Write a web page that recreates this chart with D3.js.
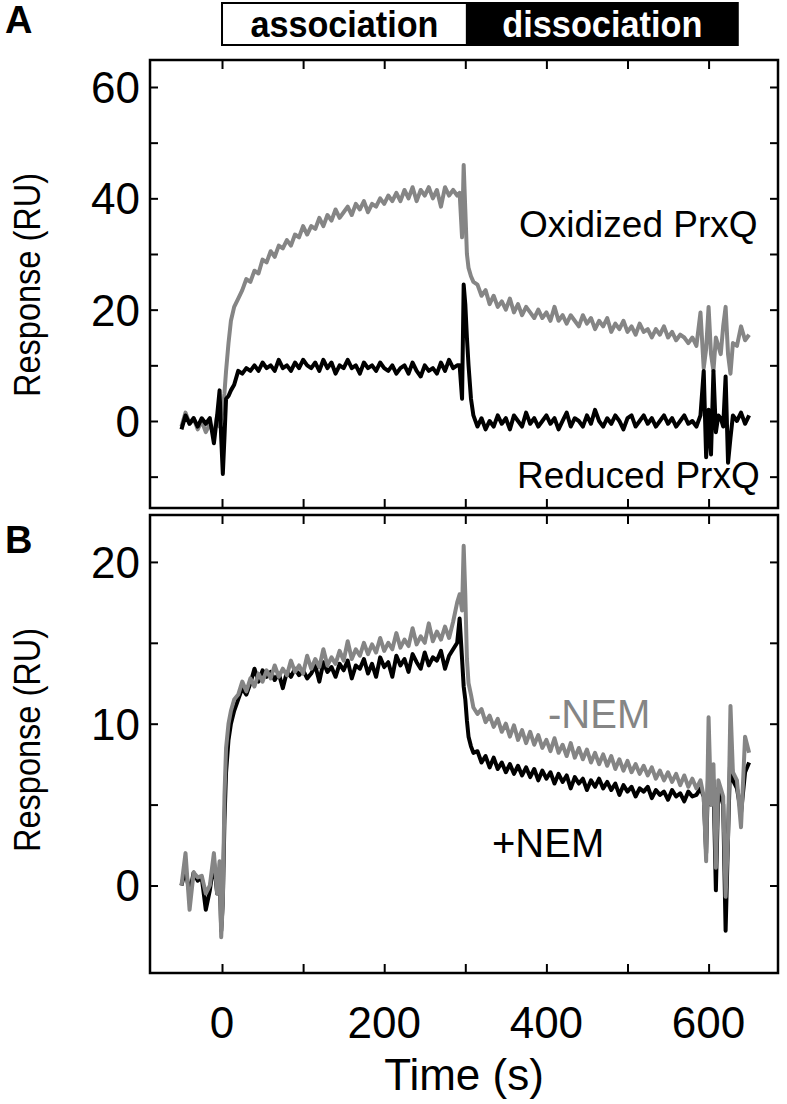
<!DOCTYPE html>
<html>
<head>
<meta charset="utf-8">
<script src="https://cdn.jsdelivr.net/npm/d3@7"></script>
<style>
	html, body { margin: 0; padding: 0; background: #fff; }
	svg text { font-family: "Liberation Sans", Arial, sans-serif; }
</style>
</head>
<body>
<div id="wrapper"></div>
<script>
/////////////////////////////////////////////////
// data /////////////////////////////////////////
/////////////////////////////////////////////////

// sampling times (s), shared by all four traces
const time = [
	-50, -45, -40, -35, -30, -25, -20, -15, -10,
	-6, -3, -1, 1, 3, 5, 8, 11,
	15, 20, 25, 30, 35, 40, 45, 50, 55, 60,
	65, 70, 75, 80, 85, 90, 95, 100, 105, 110,
	115, 120, 125, 130, 135, 140, 145, 150, 155, 160,
	165, 170, 175, 180, 185, 190, 195, 200, 205, 210,
	215, 220, 225, 230, 235, 240, 245, 250, 255, 260,
	265, 270, 275, 280, 285, 290,
	293, 296, 298, 300, 302, 304, 307, 310,
	315, 320, 325, 330, 335, 340, 345, 350, 355, 360,
	365, 370, 375, 380, 385, 390, 395, 400, 405, 410,
	415, 420, 425, 430, 435, 440, 445, 450, 455, 460,
	465, 470, 475, 480, 485, 490, 495, 500, 505, 510,
	515, 520, 525, 530, 535, 540, 545, 550, 555, 560,
	565, 570, 575, 580, 585,
	590, 594, 597, 600, 603, 606, 609, 612, 615, 618, 621, 624, 627, 630,
	635, 640, 645, 650
];

// panel A
const oxidized = [
	-1, 1.5, -0.5, 0.5, -1.5, 0, -2, -0.5, -2.5,
	1, -1, 0.5, 2, 5, 9, 14, 18,
	20.5, 22, 23.5, 25.5, 25, 27, 26.5, 29, 28.5, 30.5,
	29.5, 31.5, 31, 32.5, 31.5, 33.5, 33, 35, 33.5, 35,
	34.5, 36.5, 35, 37, 36, 38, 36.5, 37.5, 38.5, 37,
	39, 38, 39.5, 37.5, 39, 38.5, 40, 39, 40.5, 39.5,
	41, 39.5, 41.5, 40, 42, 39.5, 41.5, 40.5, 42, 40,
	41.5, 38.5, 42, 40.5, 41.5, 40.5,
	41, 33, 46, 38, 30, 27.5, 26, 25,
	24.5, 22.5, 23.5, 21, 22.5, 20.5, 21.5, 20, 22, 19.5,
	21, 19, 20.5, 19.5, 18.5, 20, 18.5, 19.5, 18, 20.5,
	18, 19, 17.5, 19, 18, 17, 19, 17.5, 18.5, 16.5,
	18, 17, 18.5, 16, 17.5, 16.5, 18, 16, 17, 15.5,
	17.5, 16, 16.5, 15, 16.5, 15.5, 17, 15, 16, 14.5,
	15.5, 15, 14, 15, 13.5,
	19.5, 9.5, 13, 20.5, 12, 9, 15, 13.5, 12, 17, 20.5, 12, 8.5, 14,
	13.5, 17, 14.5, 15.5
];

const reduced = [
	-1.5, 1, -0.5, 0.5, -1, 0.5, -0.5, 0.5, -4,
	1, 5.5, -3, -9.5, -3, 4, 4.5, 5.5,
	6.5, 9, 8.5, 9.5, 9, 10, 9, 10.5, 9.5, 10,
	9, 11, 9.5, 10, 9, 10.5, 9.5, 11, 10, 9.5,
	10.5, 9, 11, 9.5, 10.5, 8.5, 10, 9.5, 11, 9.5,
	10, 8.5, 10.5, 9.5, 10, 9, 10.5, 9.5, 9, 10,
	8.5, 9.5, 10, 8.5, 10.5, 9, 8, 10, 9, 9.5,
	8.5, 10.5, 9, 11, 9.5, 10,
	10, 4, 24.5, 21, 15, 10, 4, 1,
	-1, 0.5, -1.5, 0, -1, 1, -0.5, 0.5, -1.5, 1,
	0, -1, 1.5, -0.5, 0.5, -1, 0, 1, -0.5, 0.5,
	-1.5, 0, 1.5, -1, 0.5, 0, -1, 1, -0.5, 2,
	0, -1, 0.5, -0.5, 1, 0, -1.5, 0.5, 1, -1,
	0, 1, -0.5, 0.5, -1, 0, 1, -0.5, 0.5, -1,
	0, 1, -0.5, 0, -1,
	1, 9, -6.5, 2, -6, 9, -2, 1, 0.5, -1, 8, -7.5, -3, 1,
	0, 1.5, -0.5, 1
];

// panel B
const minusNEM = [
	0, 2, -1.5, 0.8, 0.5, 0.6, -0.5, 0, 2,
	-0.5, 1.5, -3.2, -1, 5.5, 8.5, 10, 10.8,
	11.5, 11.8, 12.6, 12.0, 12.8, 12.3, 13.1, 12.6, 13.3, 12.8,
	13.6, 12.9, 13.4, 13.0, 13.9, 13.2, 13.6, 13.1, 14.2, 13.4,
	14.0, 13.5, 14.6, 13.6, 14.1, 13.7, 14.5, 13.9, 15.1, 14.0,
	14.6, 14.2, 15.0, 14.3, 14.9, 14.4, 15.3, 14.5, 15.0, 14.6,
	15.6, 14.7, 15.2, 14.8, 15.9, 14.9, 15.4, 15.0, 16.2, 15.1,
	15.7, 15.2, 16.0, 15.3, 16.3, 17.5,
	18, 17, 21, 18, 14, 12.5, 11.8, 11,
	10.6, 10.9, 10.1, 10.5, 9.8, 10.3, 9.5, 10.0, 9.2, 9.9,
	9.0, 9.6, 8.8, 9.5, 8.7, 9.3, 8.5, 9.0, 8.3, 9.1,
	8.2, 8.7, 8.0, 8.8, 7.9, 8.5, 7.8, 8.4, 7.6, 8.2,
	7.5, 8.1, 7.4, 8.0, 7.2, 7.8, 7.1, 7.7, 7.0, 7.5,
	6.9, 7.4, 6.8, 7.3, 6.6, 7.1, 6.5, 7.0, 6.4, 6.9,
	6.2, 6.8, 6.1, 6.6, 6.0,
	6.5, 5.5, 1.5, 10.4, 5, 7.5, 1.1, 6.5, 6, 5.5, -0.7, 3, 11.1, 7,
	6.5, 3.6, 9.2, 8.2
];

const plusNEM = [
	0, 1, -0.5, 0.8, 0.3, 0.5, -1.5, -0.3, 1.5,
	-0.5, 1, -2.8, -1, 4, 7, 9, 10,
	10.8, 11.5, 12.2, 11.8, 12.5, 13.4, 12.6, 13.3, 12.9, 13.2,
	12.7, 13.1, 12.2, 13.2, 12.9, 13.4, 13.0, 13.3, 12.8, 13.1,
	13.6, 12.6, 13.8, 13.2, 13.5, 12.9, 13.7, 13.3, 13.9, 12.8,
	13.6, 13.4, 14.0, 13.1, 13.7, 12.9, 14.1, 13.5, 13.8, 12.9,
	14.2, 13.6, 14.0, 13.2, 14.3, 13.8, 13.4, 14.4, 13.6, 14.1,
	13.9, 14.5, 13.4, 14.2, 14.6, 15.0,
	16.5, 14, 12.3, 11.5, 10.2, 9.2, 8.6, 8.2,
	8.3, 7.6, 8.0, 7.3, 7.9, 7.2, 7.6, 7.0, 7.5, 6.9,
	7.4, 6.8, 7.3, 6.7, 7.2, 6.5, 7.1, 6.6, 7.0, 6.3,
	6.9, 6.4, 6.8, 6.0, 6.7, 6.3, 6.6, 5.9, 6.5, 6.1,
	6.6, 6.0, 6.4, 5.9, 6.3, 5.6, 6.2, 5.8, 6.1, 5.5,
	6.0, 5.8, 6.1, 5.4, 5.9, 5.6, 5.8, 5.3, 5.9, 5.5,
	5.7, 5.2, 5.8, 5.5, 5.6,
	6.0, 5.5, 2, 8, 5, 6.5, -0.3, 6, 5.5, 5, -2.8, 3, 8.5, 6.5,
	6, 4.5, 7, 7.6
];

// ticks
const xTicks = [0, 100, 200, 300, 400, 500, 600];
const xTickLabels = [0, 200, 400, 600];
const yTicksA = [-10, 0, 10, 20, 30, 40, 50, 60];
const yTickLabelsA = [0, 20, 40, 60];
const yTicksB = [0, 5, 10, 15, 20];
const yTickLabelsB = [0, 10, 20];

/////////////////////////////////////////////////
// dimensions ///////////////////////////////////
/////////////////////////////////////////////////

const dimensions = {
	width: 787,
	height: 1104,
	left: 150,
	right: 778,
	panelA: { top: 60, bottom: 508 },
	panelB: { top: 515, bottom: 973 }
};

const gray = "#858585";

const wrapper = d3
	.select("#wrapper")
	.append("svg")
	.attr("width", dimensions.width)
	.attr("height", dimensions.height);

/////////////////////////////////////////////////
// scales ///////////////////////////////////////
/////////////////////////////////////////////////

const xScale = d3
	.scaleLinear()
	.domain([-88.8, 685.6])
	.range([dimensions.left, dimensions.right]);

const yScaleA = d3
	.scaleLinear()
	.domain([-15.63, 64.85])
	.range([dimensions.panelA.bottom, dimensions.panelA.top]);

const yScaleB = d3
	.scaleLinear()
	.domain([-5.41, 22.9])
	.range([dimensions.panelB.bottom, dimensions.panelB.top]);

/////////////////////////////////////////////////
// panels ///////////////////////////////////////
/////////////////////////////////////////////////

const drawPanel = (panel, yScale, yTicks, yLabels, traces, title, titleY, labelY) => {
	const g = wrapper.append("g");

	// inward ticks on all four sides
	const tidy = (sel) => {
		sel.select(".domain").remove();
		sel.selectAll(".tick line").attr("stroke", "#000").attr("stroke-width", 2);
	};
	g.append("g")
		.attr("transform", `translate(${dimensions.left},0)`)
		.call(d3.axisLeft(yScale).tickValues(yTicks).tickSize(-8).tickFormat(""))
		.call(tidy);
	g.append("g")
		.attr("transform", `translate(${dimensions.right},0)`)
		.call(d3.axisRight(yScale).tickValues(yTicks).tickSize(-8).tickFormat(""))
		.call(tidy);
	g.append("g")
		.attr("transform", `translate(0,${panel.top})`)
		.call(d3.axisTop(xScale).tickValues(xTicks).tickSize(-9).tickFormat(""))
		.call(tidy);
	g.append("g")
		.attr("transform", `translate(0,${panel.bottom})`)
		.call(d3.axisBottom(xScale).tickValues(xTicks).tickSize(-9).tickFormat(""))
		.call(tidy);

	// y tick labels
	g.selectAll(".ylab")
		.data(yLabels)
		.join("text")
		.attr("class", "ylab")
		.attr("x", dimensions.left - 10)
		.attr("y", (d) => yScale(d))
		.attr("dy", "0.36em")
		.attr("text-anchor", "end")
		.style("font-size", "44px")
		.text((d) => d);

	// traces
	traces.forEach((t) => {
		const line = d3
			.line()
			.x((d, i) => xScale(time[i]))
			.y((d) => yScale(d));
		g.append("path")
			.datum(t.values)
			.attr("d", line)
			.attr("fill", "none")
			.attr("stroke", t.color)
			.attr("stroke-width", 4)
			.attr("stroke-linejoin", "round");
	});

	// frame
	g.append("rect")
		.attr("x", dimensions.left)
		.attr("y", panel.top)
		.attr("width", dimensions.right - dimensions.left)
		.attr("height", panel.bottom - panel.top)
		.attr("fill", "none")
		.attr("stroke", "#000")
		.attr("stroke-width", 2.5);

	// y axis title
	g.append("text")
		.attr("transform", `translate(40,${labelY}) rotate(-90)`)
		.attr("text-anchor", "middle")
		.attr("textLength", 224)
		.attr("lengthAdjust", "spacingAndGlyphs")
		.style("font-size", "36px")
		.text("Response (RU)");

	// panel letter
	g.append("text")
		.attr("x", 5)
		.attr("y", titleY)
		.style("font-size", "38px")
		.style("font-weight", "bold")
		.text(title);

	return g;
};

const gA = drawPanel(
	dimensions.panelA,
	yScaleA,
	yTicksA,
	yTickLabelsA,
	[
		{ values: oxidized, color: gray },
		{ values: reduced, color: "#000" }
	],
	"A",
	33,
	285
);

const gB = drawPanel(
	dimensions.panelB,
	yScaleB,
	yTicksB,
	yTickLabelsB,
	[
		{ values: plusNEM, color: "#000" },
		{ values: minusNEM, color: gray }
	],
	"B",
	553,
	740
);

// trace labels
gA.append("text").attr("x", 519).attr("y", 237).style("font-size", "37px").text("Oxidized PrxQ");
gA.append("text").attr("x", 517).attr("y", 488).style("font-size", "37px").text("Reduced PrxQ");
gB.append("text").attr("x", 548).attr("y", 728).style("font-size", "40px").attr("fill", gray).text("-NEM");
gB.append("text").attr("x", 492).attr("y", 857).style("font-size", "40px").text("+NEM");

/////////////////////////////////////////////////
// x axis labels ////////////////////////////////
/////////////////////////////////////////////////

wrapper
	.selectAll(".xlab")
	.data(xTickLabels)
	.join("text")
	.attr("class", "xlab")
	.attr("x", (d) => xScale(d))
	.attr("y", 1038)
	.attr("text-anchor", "middle")
	.style("font-size", "44px")
	.text((d) => d);

wrapper
	.append("text")
	.attr("x", (dimensions.left + dimensions.right) / 2)
	.attr("y", 1090)
	.attr("text-anchor", "middle")
	.style("font-size", "44px")
	.text("Time (s)");

/////////////////////////////////////////////////
// phase bar ////////////////////////////////////
/////////////////////////////////////////////////

const bar = wrapper.append("g");
const barTop = 3;
const barH = 42;
bar.append("rect")
	.attr("x", xScale(0))
	.attr("y", barTop)
	.attr("width", xScale(302) - xScale(0))
	.attr("height", barH)
	.attr("fill", "#fff")
	.attr("stroke", "#000")
	.attr("stroke-width", 2);
bar.append("rect")
	.attr("x", xScale(302))
	.attr("y", barTop)
	.attr("width", xScale(636) - xScale(302))
	.attr("height", barH)
	.attr("fill", "#000")
	.attr("stroke", "#000")
	.attr("stroke-width", 2);
bar.append("text")
	.attr("x", (xScale(0) + xScale(302)) / 2)
	.attr("y", 37)
	.attr("text-anchor", "middle")
	.attr("textLength", 188)
	.attr("lengthAdjust", "spacingAndGlyphs")
	.style("font-size", "37px")
	.style("font-weight", "bold")
	.text("association");
bar.append("text")
	.attr("x", (xScale(302) + xScale(636)) / 2)
	.attr("y", 37)
	.attr("text-anchor", "middle")
	.attr("textLength", 200)
	.attr("lengthAdjust", "spacingAndGlyphs")
	.style("font-size", "37px")
	.style("font-weight", "bold")
	.attr("fill", "#fff")
	.text("dissociation");
</script>
</body>
</html>
